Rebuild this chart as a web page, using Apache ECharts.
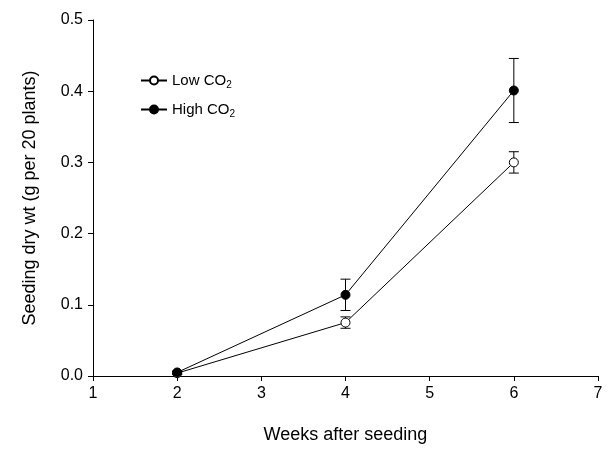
<!DOCTYPE html>
<html><head><meta charset="utf-8">
<script src="https://cdn.jsdelivr.net/npm/echarts@6/dist/echarts.min.js"></script>
<style>html,body{margin:0;background:#fff}#c{width:616px;height:465px}</style>
</head><body><div id="c"></div>
<script>
var weeks = [2, 4, 6];
var lowMean = [0.004, 0.075, 0.300];
var lowErr = [0.002, 0.008, 0.015];
var highMean = [0.005, 0.114, 0.401];
var highErr = [0.002, 0.022, 0.045];

function pts(m){ return weeks.map(function(w,i){ return [w, m[i]]; }); }
function errData(m,e){ return weeks.map(function(w,i){ return [w, m[i]-e[i], m[i]+e[i]]; }); }
function errBar(params, api){
  var lo = api.coord([api.value(0), api.value(1)]);
  var hi = api.coord([api.value(0), api.value(2)]);
  var s = {stroke:'#000', lineWidth:1};
  return {type:'group', children:[
    {type:'line', shape:{x1:lo[0],y1:lo[1],x2:hi[0],y2:hi[1]}, style:s},
    {type:'line', shape:{x1:lo[0]-5,y1:lo[1],x2:lo[0]+5,y2:lo[1]}, style:s},
    {type:'line', shape:{x1:hi[0]-5,y1:hi[1],x2:hi[0]+5,y2:hi[1]}, style:s}
  ]};
}
var txt = {fontFamily:'Arial, Liberation Sans', color:'#000'};
var chart = echarts.init(document.getElementById('c'));
chart.setOption({
  animation:false,
  grid:{left:93, right:18, top:20, bottom:89},
  legend:{
    left:135, top:68, orient:'vertical', itemGap:12, itemWidth:26, itemHeight:10,
    data:['Low','High'],
    formatter:function(n){ return '{a|' + n + ' CO}{s|2}'; },
    textStyle:{rich:{a:{fontSize:15,fontFamily:'Arial, Liberation Sans',color:'#000'},
                     s:{fontSize:10,fontFamily:'Arial, Liberation Sans',color:'#000',verticalAlign:'bottom',padding:[9,0,0,0]}}}
  },
  xAxis:{type:'value', min:1, max:7, interval:1, name:'Weeks after seeding',
    nameLocation:'middle', nameGap:50, nameTextStyle:Object.assign({fontSize:18},txt),
    axisLine:{lineStyle:{color:'#000'}}, axisTick:{length:5,lineStyle:{color:'#000'}},
    axisLabel:Object.assign({fontSize:16, margin:10},txt), splitLine:{show:false}},
  yAxis:{type:'value', min:0, max:0.5, interval:0.1, name:'Seeding dry wt (g per 20 plants)',
    nameLocation:'middle', nameGap:54, nameTextStyle:Object.assign({fontSize:18},txt),
    axisLine:{show:true,lineStyle:{color:'#000'}}, axisTick:{show:true,length:5,lineStyle:{color:'#000'}},
    axisLabel:Object.assign({fontSize:16, margin:10, formatter:function(v){return v.toFixed(1);}},txt),
    splitLine:{show:false}},
  series:[
    {type:'custom', renderItem:errBar, data:errData(lowMean,lowErr), z:1, silent:true},
    {type:'custom', renderItem:errBar, data:errData(highMean,highErr), z:1, silent:true},
    {name:'Low', type:'line', data:pts(lowMean), symbol:'circle', symbolSize:9, z:3,
     lineStyle:{color:'#000',width:1}, itemStyle:{color:'#fff',borderColor:'#000',borderWidth:1}},
    {name:'High', type:'line', data:pts(highMean), symbol:'circle', symbolSize:9, z:3,
     lineStyle:{color:'#000',width:1}, itemStyle:{color:'#000',borderColor:'#000',borderWidth:1}}
  ]
});
</script></body></html>
